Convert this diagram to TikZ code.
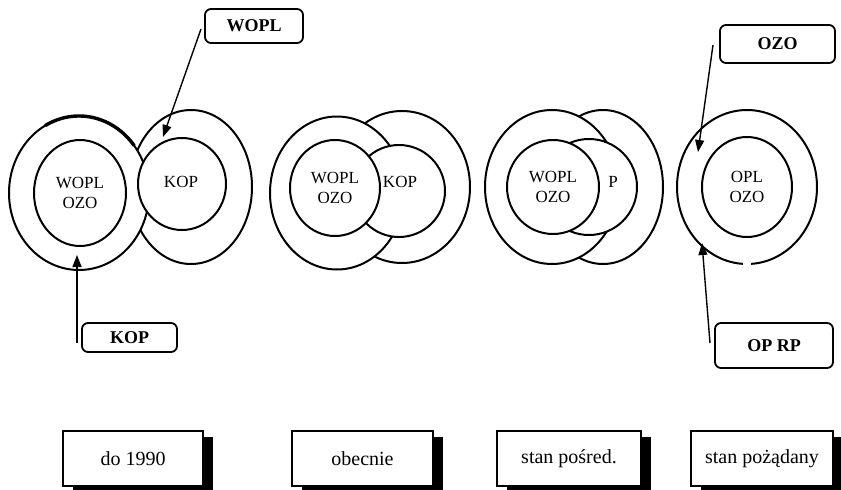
\documentclass[tikz,border=0pt]{standalone}
\usepackage{fontspec}
\setmainfont{Liberation Serif}
\usetikzlibrary{shapes.geometric,arrows.meta}
\begin{document}
\begin{tikzpicture}[x=1pt,y=-1pt,
  ring/.style={draw,fill=white,ellipse,line width=2pt,inner sep=0pt},
  ctext/.style={font=\fontsize{17}{20}\selectfont,align=center,inner sep=0pt},
  tagbox/.style={draw,line width=1.8pt,rounded corners=6pt,fill=white,font=\bfseries\fontsize{18}{20}\selectfont,inner sep=0pt},
  phase/.style={draw,line width=1.4pt,fill=white,font=\fontsize{20}{22}\selectfont,inner sep=0pt},
  shade/.style={fill=black,inner sep=0pt},
  ptr/.style={line width=1.4pt,-{Triangle[length=12pt,width=9pt]}}]
\useasboundingbox (0,0) rectangle (841,490);
\fill[white] (0,0) rectangle (841,490);

% ---- diagram 1: do 1990
\node[ring,minimum width=122pt,minimum height=154pt] (r1o) at (191,187) {};
\node[ring,minimum width=140pt,minimum height=154pt] (l1o) at (79,193) {};
\draw[line width=3.4pt] (79,193) ++(-119:70 and 77) arc[start angle=-119,end angle=-38,x radius=70,y radius=77];
\node[ring,minimum width=92pt,minimum height=106pt] (l1i) at (80,193) {};
\node[ring,minimum width=88pt,minimum height=92pt] (k1i) at (182,184) {};
\node[ctext] (t1a) at (l1i.center) {WOPL\\OZO};
\node[ctext] (t1b) at (181,182) {KOP};

% ---- diagram 2: obecnie
\node[ring,minimum width=136pt,minimum height=152pt] (r2o) at (402,187) {};
\node[ring,minimum width=134pt,minimum height=153pt] (l2o) at (337,193) {};
\node[ring,minimum width=92pt,minimum height=92pt] (k2i) at (399,191) {};
\node[ring,minimum width=90pt,minimum height=96pt] (w2i) at (335,188) {};
\node[ctext] (t2a) at (w2i.center) {WOPL\\OZO};
\node[ctext] (t2b) at (400,182) {KOP};

% ---- diagram 3: stan posred.
\node[ring,minimum width=120pt,minimum height=154pt] (r3o) at (603,187) {};
\node[ring,minimum width=134pt,minimum height=154pt] (l3o) at (552,187) {};
\node[ring,minimum width=96pt,minimum height=96pt] (p3i) at (589,187) {};
\node[ring,minimum width=92pt,minimum height=94pt] (w3i) at (553,187) {};
\node[ctext] (t3a) at (w3i.center) {WOPL\\OZO};
\node[ctext] (t3b) at (613,182) {P};

% ---- diagram 4: stan pozadany
\node[ring,minimum width=140pt,minimum height=154pt] (o4o) at (747,187) {};
\fill[white] (743,258) rectangle (751,270);
\node[ring,minimum width=90pt,minimum height=100pt] (o4i) at (747,187) {};
\node[ctext] (t4a) at (o4i.center) {OPL\\OZO};

% ---- tag boxes and pointers
\node[tagbox,minimum width=98pt,minimum height=34pt] (bw) at (254,26) {WOPL};
\node[tagbox,minimum width=95pt,minimum height=29pt] (bk) at (129.5,337.5) {KOP};
\node[tagbox,minimum width=115pt,minimum height=38pt] (bo) at (777.5,44) {OZO};
\node[tagbox,minimum width=118pt,minimum height=45pt] (bp) at (774,345.5) {OP RP};

\coordinate (sw) at (201,29);  \coordinate (ew) at (163,137);
\coordinate (sk) at (77,343);  \coordinate (ek) at (77,255);
\coordinate (so) at (713,45);  \coordinate (eo) at (698,152);
\coordinate (sp) at (710,343); \coordinate (ep) at (702,243);
\draw[ptr] (sw) -- (ew);
\draw[ptr] (sk) -- (ek);
\draw[ptr] (so) -- (eo);
\draw[ptr] (sp) -- (ep);

% ---- phase labels with shadow
\foreach \n/\cx/\w/\txt in {ph1/133/140/{do 1990},ph2/362.5/141/{obecnie},ph3/569/144/{stan pośred.},ph4/762/142/{stan pożądany}}{
  \node[shade,minimum width=\w pt,minimum height=55pt] (\n s) at (\cx+10,464.5) {};
  \node[phase,minimum width=\w pt,minimum height=55pt] (\n) at (\cx,458.5) {\txt};
}
\end{tikzpicture}
\end{document}
